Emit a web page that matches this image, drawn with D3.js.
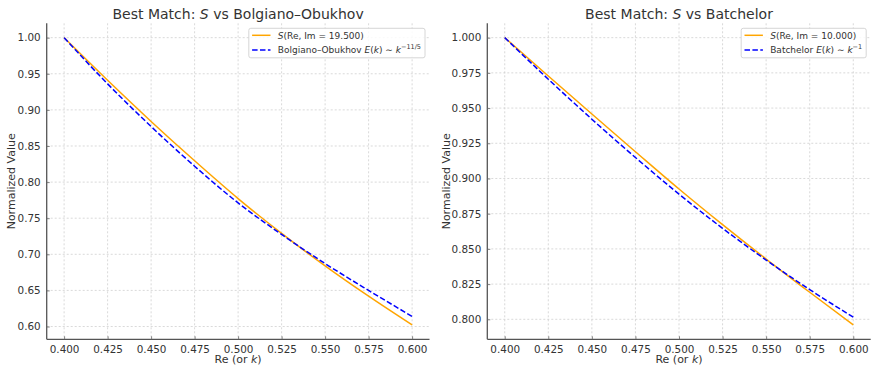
<!DOCTYPE html>
<html>
<head>
  <meta charset="utf-8">
  <title>Best Match</title>
  <script src="https://d3js.org/d3.v7.min.js"></script>
  <style>
    body { margin: 0; background: #fff; }
    text { font-family: "DejaVu Sans", sans-serif; fill: #333; }
  </style>
</head>
<body>
<script>
// values
var reValues = [0.400, 0.425, 0.450, 0.475, 0.500, 0.525, 0.550, 0.575, 0.600];
var sBolgiano = [1.000, 0.9410, 0.8840, 0.8295, 0.7772, 0.7290, 0.6840, 0.6420, 0.6022];
var bolgianoObukhov = [1.000, 0.9360, 0.8770, 0.8220, 0.7712, 0.7275, 0.6872, 0.6500, 0.6140];
var sBatchelor = [1.000, 0.9728, 0.9458, 0.9190, 0.8925, 0.8672, 0.8428, 0.8192, 0.7960];
var batchelor = [1.000, 0.9705, 0.9421, 0.9149, 0.8889, 0.8646, 0.8421, 0.8211, 0.8015];

var xTicks = [0.400, 0.425, 0.450, 0.475, 0.500, 0.525, 0.550, 0.575, 0.600];
var yTicksLeft = [0.60, 0.65, 0.70, 0.75, 0.80, 0.85, 0.90, 0.95, 1.00];
var yTicksRight = [0.800, 0.825, 0.850, 0.875, 0.900, 0.925, 0.950, 0.975, 1.000];

var width = 879, height = 372;
var svg = d3.select('body').append('svg').attr('width', width).attr('height', height);

var panels = [
  { left: 46.7, right: 429.5, title: 'Bolgiano\u2013Obukhov', s: sBolgiano, ref: bolgianoObukhov,
    yTicks: yTicksLeft, yFmt: d3.format('.2f'), im: '19.500', refName: 'Bolgiano\u2013Obukhov ', exp: '\u221211/5',
    yLabelX: 11 },
  { left: 487.3, right: 870.7, title: 'Batchelor', s: sBatchelor, ref: batchelor,
    yTicks: yTicksRight, yFmt: d3.format('.3f'), im: '10.000', refName: 'Batchelor ', exp: '\u22121',
    yLabelX: 446 }
];
var plotTop = 23.3, plotBottom = 339.3;

panels.forEach(function(p) {
  var g = svg.append('g');
  var x = d3.scaleLinear().domain([0.39, 0.61]).range([p.left, p.right]);
  var all = p.s.concat(p.ref);
  var lo = d3.min(all), hi = d3.max(all), pad = (hi - lo) * 0.05;
  var y = d3.scaleLinear().domain([lo - pad, hi + pad]).range([plotBottom, plotTop]);

  // grid
  g.selectAll('.gx').data(xTicks).enter().append('line')
    .attr('x1', function(d) { return x(d); }).attr('x2', function(d) { return x(d); })
    .attr('y1', plotTop).attr('y2', plotBottom)
    .attr('stroke', '#cfcfcf').attr('stroke-width', 0.8).attr('stroke-dasharray', '2,2');
  g.selectAll('.gy').data(p.yTicks).enter().append('line')
    .attr('y1', function(d) { return y(d); }).attr('y2', function(d) { return y(d); })
    .attr('x1', p.left).attr('x2', p.right)
    .attr('stroke', '#cfcfcf').attr('stroke-width', 0.8).attr('stroke-dasharray', '2,2');

  // axes
  var xAxis = d3.axisBottom(x).tickValues(xTicks).tickFormat(d3.format('.3f')).tickSizeInner(-3).tickSizeOuter(0).tickPadding(6);
  var yAxis = d3.axisLeft(y).tickValues(p.yTicks).tickFormat(p.yFmt).tickSizeInner(-3).tickSizeOuter(0).tickPadding(6);
  var gx = g.append('g').attr('transform', 'translate(0,' + plotBottom + ')').call(xAxis);
  var gy = g.append('g').attr('transform', 'translate(' + p.left + ',0)').call(yAxis);
  [gx, gy].forEach(function(a) {
    a.select('.domain').attr('stroke', '#555').attr('stroke-width', 1.3);
    a.selectAll('.tick line').attr('stroke', '#666').attr('stroke-width', 0.8);
    a.selectAll('.tick text').attr('font-family', '"DejaVu Sans", sans-serif').attr('font-size', 10.4).attr('fill', '#333');
  });
  gx.select('.domain').attr('d', 'M' + p.left + ',0H' + p.right);
  gy.select('.domain').attr('d', 'M0,' + plotTop + 'V' + plotBottom);

  // lines
  var line = function(vals) {
    return d3.line().curve(d3.curveMonotoneX)
      .x(function(d, i) { return x(reValues[i]); })
      .y(function(d) { return y(d); })(vals);
  };
  g.append('path').attr('d', line(p.s)).attr('fill', 'none').attr('stroke', '#FFA500').attr('stroke-width', 1.5);
  g.append('path').attr('d', line(p.ref)).attr('fill', 'none').attr('stroke', '#0000FF').attr('stroke-width', 1.5)
    .attr('stroke-dasharray', '5.5,2.4');

  // title
  var cx = (p.left + p.right) / 2;
  var t = g.append('text').attr('x', cx).attr('y', 19).attr('text-anchor', 'middle').attr('font-size', 14);
  t.append('tspan').text('Best Match: ');
  t.append('tspan').attr('font-style', 'italic').text('S');
  t.append('tspan').text(' vs ' + p.title);

  // axis labels
  var xl = g.append('text').attr('x', cx).attr('y', 363).attr('text-anchor', 'middle').attr('font-size', 11);
  xl.append('tspan').text('Re (or ');
  xl.append('tspan').attr('font-style', 'italic').text('k');
  xl.append('tspan').text(')');
  g.append('text').attr('transform', 'translate(' + (p.yLabelX + 4) + ',' + ((plotTop + plotBottom) / 2) + ') rotate(-90)')
    .attr('text-anchor', 'middle').attr('font-size', 11).text('Normalized Value');

  // legend
  var lg = g.append('g');
  var box = lg.append('rect').attr('fill', 'white').attr('fill-opacity', 0.85)
    .attr('stroke', '#cccccc').attr('stroke-width', 0.8).attr('rx', 2);
  var t1 = lg.append('text').attr('font-size', 9);
  t1.append('tspan').attr('font-style', 'italic').text('S');
  t1.append('tspan').text('(Re, Im = ' + p.im + ')');
  var t2 = lg.append('text').attr('font-size', 9);
  t2.append('tspan').text(p.refName);
  t2.append('tspan').attr('font-style', 'italic').text('E');
  t2.append('tspan').text('(');
  t2.append('tspan').attr('font-style', 'italic').text('k');
  t2.append('tspan').text(') \u223C ');
  t2.append('tspan').attr('font-style', 'italic').text('k');
  t2.append('tspan').attr('font-size', 6.5).attr('dy', -4).text(p.exp);
  var tw = Math.max(t1.node().getComputedTextLength(), t2.node().getComputedTextLength());
  var bw = 3.3 + 18.4 + 7.3 + tw + 4;
  var bx = p.right - 4.5 - bw, by = plotTop + 5, bh = 29.5;
  box.attr('x', bx).attr('y', by).attr('width', bw).attr('height', bh);
  var rowY = [by + 7, by + 21.8];
  lg.append('line').attr('x1', bx + 3.3).attr('x2', bx + 21.7).attr('y1', rowY[0]).attr('y2', rowY[0])
    .attr('stroke', '#FFA500').attr('stroke-width', 1.5);
  lg.append('line').attr('x1', bx + 3.3).attr('x2', bx + 21.7).attr('y1', rowY[1]).attr('y2', rowY[1])
    .attr('stroke', '#0000FF').attr('stroke-width', 1.5).attr('stroke-dasharray', '5.5,2.4');
  t1.attr('x', bx + 29).attr('y', rowY[0] + 3.3);
  t2.attr('x', bx + 29).attr('y', rowY[1] + 3.3);
});
</script>
</body>
</html>
